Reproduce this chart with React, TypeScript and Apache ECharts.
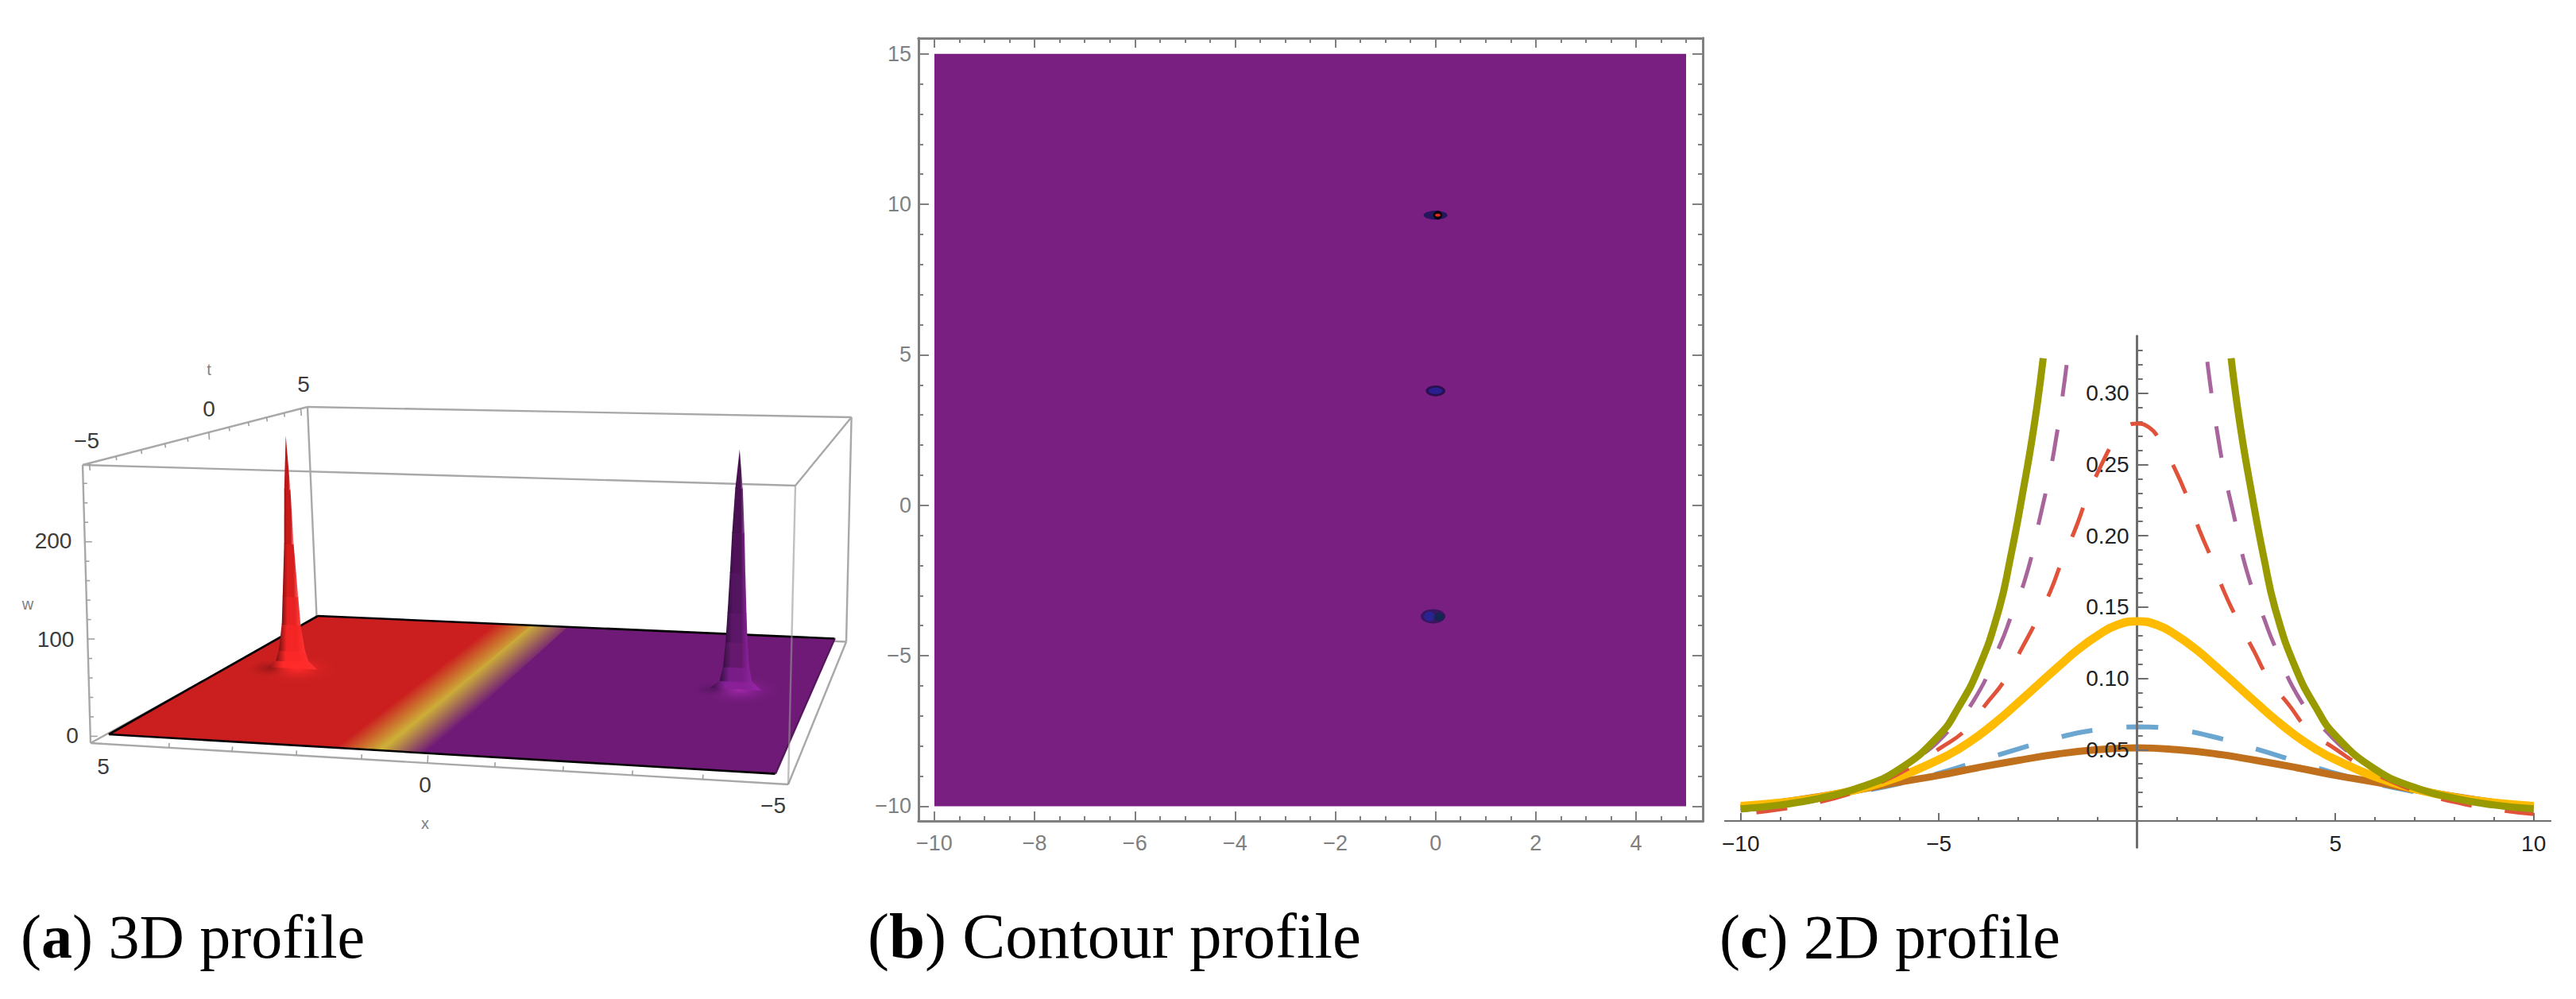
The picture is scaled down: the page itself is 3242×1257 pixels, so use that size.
import React, { useEffect, useRef } from "react";
import * as echarts from "echarts";

// ---------- Panel (a): 3D surface values ----------
const surfaceStripX = [[5, 1.4], [1.4, 0.7], [0.7, 0], [0, -5]];
const surfaceStripColors = [["#cb1f1f", "#cb1f1f"], ["#cb1f1f", "#cdae38"], ["#cdae38", "#701a78"], ["#701a78", "#701a78"]];
const redSpikeX = 3.87;
const redSpikeT = 0.19;
const redSpikeW = [0, 8, 20, 51, 84, 146, 210, 273];
const redSpikeR = [0.45, 0.3, 0.24, 0.17, 0.14, 0.085, 0.055, 0];
const redDark = ["#8a1414", "#801010", "#7a1010", "#7a1010", "#8a1010", "#991212", "#aa1515"];
const redMid = ["#ff2a2a", "#fb2828", "#f42525", "#e82222", "#d81d1d", "#c81a1a", "#c01818"];
const redBright = ["#ff3030", "#ff3030", "#ff3434", "#ff4040", "#ff6060", "#ff8888", "#ffaaaa"];
const purpleSpikeX = -3.775;
const purpleSpikeT = 0.3;
const purpleSpikeW = [0, 8, 24, 52, 85, 130, 175, 225, 268];
const purpleSpikeR = [0.42, 0.27, 0.215, 0.18, 0.155, 0.125, 0.1, 0.06, 0];
const purpleDark = ["#3a1048", "#32103f", "#32103f", "#32103f", "#361044", "#3a0f48", "#3a0f48", "#3a0f48"];
const purpleMid = ["#8a2098", "#7a1c88", "#66186f", "#5c1668", "#541560", "#4f1258", "#4a1152", "#4a1152"];
const purpleBright = ["#9a24a8", "#9022a0", "#8f22a0", "#8a2299", "#842694", "#7d2a8f", "#8a4a98", "#a07aa8"];
const glowX = [4.2, 3.78, -3.47, -3.84];
const glowT = [0.1, 0.15, 0.2, 0.25];
const glowRx = [34, 54, 34, 54];
const glowRy = [13, 19, 12, 19];
const glowCol = ["rgba(90,12,12,0.85)", "rgba(255,42,42,1)", "rgba(50,14,60,0.9)", "rgba(160,40,170,1)"];
const glowEnd = ["rgba(203,31,31,0)", "rgba(203,31,31,0)", "rgba(112,26,120,0)", "rgba(112,26,120,0)"];
const ticksX3d = [4, 3, 2, 1, 0, -1, -2, -3, -4];
const ticksT3d = [-5, -4, -3, -2, -1, 0, 1, 2, 3, 4, 5];
const ticksW3d = [0, 20, 40, 60, 80, 100, 120, 140, 160, 180, 200, 220, 240, 260];

// ---------- Panel (b): contour values ----------
const contourField = [[-10, -10, 5, 15]];
const spotX = [0, 0.045, 0.045, 0, 0, -0.05, -0.12, 0.07];
const spotY = [9.64, 9.64, 9.64, 3.8, 3.8, -3.69, -3.69, -3.71];
const spotRx = [0.238, 0.087, 0.055, 0.195, 0.14, 0.246, 0.11, 0.1];
const spotRy = [0.145, 0.145, 0.053, 0.18, 0.11, 0.235, 0.16, 0.13];
const spotFill = ["#25175e", "#06060f", "#e0281e", "#2b1050", "#2a1f90", "#3a1560", "#2a2490", "#16274f"];
const bTicksXMajor = [-10, -8, -6, -4, -2, 0, 2, 4];
const bTicksYMajor = [-10, -5, 0, 5, 10, 15];

// ---------- Panel (c): 2D profile values ----------
const goldX = [0, 0.5, 1, 1.5, 2, 2.5, 3, 3.5, 4, 4.5, 5, 6, 7, 8, 9, 10];
const goldY = [0.14, 0.1375, 0.13, 0.12, 0.108, 0.0955, 0.083, 0.0708, 0.0598, 0.0505, 0.043, 0.031, 0.0225, 0.0165, 0.0128, 0.0105];
const brownX = [0, 1, 2, 3, 4, 5, 6, 7, 8, 9, 10];
const brownY = [0.0513, 0.05, 0.047, 0.0425, 0.0375, 0.032, 0.0272, 0.022, 0.0172, 0.013, 0.0095];
const blueX = [0, 1, 2, 3, 4, 5, 6, 7, 8, 9, 10];
const blueY = [0.066, 0.064, 0.0585, 0.0505, 0.042, 0.0335, 0.0262, 0.0205, 0.0155, 0.0112, 0.0075];
const redX = [0, 0.3, 0.55, 0.95, 1.27, 1.57, 1.89, 2.19, 2.55, 2.93, 3.32, 3.84, 4.32, 5, 5.65, 6.5, 7.2, 8, 9, 10];
const redY = [0.2787, 0.276, 0.268, 0.247, 0.2265, 0.204, 0.183, 0.161, 0.14, 0.12, 0.0996, 0.081, 0.064, 0.0505, 0.0387, 0.0266, 0.0195, 0.0133, 0.0082, 0.0048];
const purpleX = [1.77, 2.1, 2.45, 2.8, 3.2, 3.45, 4.1, 4.8, 5.5, 6.5, 8, 10];
const purpleY = [0.322, 0.259, 0.213, 0.172, 0.142, 0.124, 0.0855, 0.062, 0.045, 0.0285, 0.015, 0.0075];
const oliveX = [2.37, 2.6, 2.9, 3.2, 3.5, 4, 4.5, 5, 6, 7, 8, 9, 10];
const oliveY = [0.3245, 0.277, 0.228, 0.184, 0.147, 0.107, 0.08, 0.06, 0.0363, 0.0235, 0.016, 0.0112, 0.0085];
const cTicksXMajor = [-10, -5, 5, 10];
const cTicksYMajor = [0.05, 0.1, 0.15, 0.2, 0.25, 0.3];

// ---------- Captions ----------
const captionTexts = ["({b|a}) 3D profile", "({b|b}) Contour profile", "({b|c}) 2D profile"];

// ---------- Camera of panel (a) ----------
const NL = [137, 924], NR = [975.5, 973.6], BR = [1050.5, 803.5], BL = [400, 775];
const TFL = [104, 585], TBL = [387, 512], TBR = [1071.6, 525], TFR = [1001, 611];
const BFL = [114, 935], BFR = [992, 987], BBR = [1065, 807.5], BBL = [398.6, 778];
const den0 = (NR[0] - BR[0]) * (BL[1] - BR[1]) - (BL[0] - BR[0]) * (NR[1] - BR[1]);
const sx = NL[0] - NR[0] + BR[0] - BL[0];
const sy = NL[1] - NR[1] + BR[1] - BL[1];
const hg = (sx * (BL[1] - BR[1]) - (BL[0] - BR[0]) * sy) / den0;
const hh = ((NR[0] - BR[0]) * sy - sx * (NR[1] - BR[1])) / den0;
const ha = NR[0] - NL[0] + hg * NR[0], hb = BL[0] - NL[0] + hh * BL[0];
const hd = NR[1] - NL[1] + hg * NR[1], he = BL[1] - NL[1] + hh * BL[1];
const wScale = 1.225;
function project(x: number, t: number, w: number): number[] {
  const u = (5 - x) / 10, v = (t + 5) / 10;
  const den = hg * u + hh * v + 1;
  const X = (ha * u + hb * v + NL[0]) / den;
  const Y = (hd * u + he * v + NL[1]) / den;
  const s = (wScale / den) * w;
  const tilt = (1 - v) * ((1 - u) * -0.0286 + u * 0.024) + v * ((1 - u) * -0.042 + u * 0.023);
  return [X + tilt * s, Y - s];
}
const lerp2 = (A: number[], B: number[], f: number) => [A[0] + (B[0] - A[0]) * f, A[1] + (B[1] - A[1]) * f];

function range(a: number, b: number, step: number) {
  const out: number[] = [];
  const n = Math.round((b - a) / step);
  for (let i = 0; i <= n; i++) out.push(+(a + i * step).toFixed(4));
  return out;
}
const fmtMinus = (s: string) => s.replace("-", "\u2212");

function segSeries(name: string, segs: number[][], color: string, width: number, z: number) {
  return {
    type: "custom", name, coordinateSystem: "none", silent: true, z, data: segs,
    renderItem: (_p: any, api: any) => ({
      type: "line",
      shape: { x1: api.value(0), y1: api.value(1), x2: api.value(2), y2: api.value(3) },
      style: { stroke: color, lineWidth: width, fill: "none" },
    }),
  };
}
const edge = (A: number[], B: number[]) => [A[0], A[1], B[0], B[1]];

function axisOf(gridIndex: number, position: string, min: number, max: number, ticks: number[], len: number, color: string, width: number, label?: any) {
  return {
    type: "value", gridIndex, position, min, max, z: 1,
    splitLine: { show: false },
    axisLine: { show: true, onZero: false, lineStyle: { color, width } },
    axisTick: { show: true, inside: true, length: len, customValues: ticks, lineStyle: { color, width: 2 } },
    axisLabel: label ? { show: true, ...label } : { show: false },
  };
}
const hiddenAxis = (gridIndex: number, min: number, max: number) => ({ type: "value", gridIndex, min, max, show: false });

function spikeSeries(name: string, x0: number, t0: number, W: number[], R: number[], dark: string[], mid: string[], bright: string[]) {
  const data = W.slice(0, -1).map((w, i) => [w, R[i], W[i + 1], R[i + 1], i]);
  return {
    type: "custom", name, coordinateSystem: "none", silent: true, z: 6, data,
    renderItem: (_p: any, api: any) => {
      const w0 = api.value(0), r0 = api.value(1), w1 = api.value(2), r1 = api.value(3), i = api.value(4);
      const a = project(x0 + r0, t0, w0), b = project(x0 - r0, t0, w0);
      const c = project(x0 - r1, t0, w1 + 1), d = project(x0 + r1, t0, w1 + 1);
      return {
        type: "polygon",
        shape: { points: [a, b, c, d] },
        style: {
          fill: new echarts.graphic.LinearGradient(0, 0, 1, 0, [
            { offset: 0, color: dark[i] },
            { offset: 0.3, color: mid[i] },
            { offset: 0.7, color: mid[i] },
            { offset: 1, color: bright[i] },
          ]),
        },
      };
    },
  };
}

function curve(name: string, xs: number[], ys: number[], color: string, width: number, z: number, dash?: number[], offset?: number) {
  const left = xs.map((x, i) => [-x, ys[i]]).reverse();
  const right = xs.map((x, i) => [x, ys[i]]);
  const data = xs[0] === 0 ? left.slice(0, -1).concat(right) : left.concat([["-", "-"] as any]).concat(right);
  return {
    type: "line", name, xAxisIndex: 8, yAxisIndex: 8, data, showSymbol: false, symbol: "none", smooth: 0.5,
    z, silent: true, connectNulls: false,
    lineStyle: { color, width, type: dash ?? "solid", dashOffset: offset ?? 0, cap: "butt" },
  };
}

function buildOption() {
  const labelB = { color: "#808080", fontFamily: "Liberation Sans", fontSize: 27 };
  const xMinorB = range(-10, 5, 0.5);
  const yMinorB = range(-10, 15, 1);
  const gb = { left: 1156, top: 48, width: 987, height: 985 };
  const gcX = { left: 2171, top: 423, width: 1039, height: 610 };
  const gcY = { left: 2689.7, top: 423, width: 520.3, height: 643 };
  const gcAll = { left: 2171, top: 423, width: 1039, height: 643 };
  const bx = [-10.317, 5.333], by = [-10.49, 15.52];
  const cx = [-10.395, 10.427], cy = [-0.0184, 0.34];
  const cGray = "#6e6e6e";
  const labelC = { color: "#222222", fontFamily: "Liberation Sans", fontSize: 28 };
  const minusFmt = (v: number) => fmtMinus(String(v));
  const grid = [gb, gb, gcX, gcX, gcY, gcY, gcAll].map((g) => ({ ...g, containLabel: false }));
  const xAxis: any[] = [
    axisOf(0, "bottom", bx[0], bx[1], bTicksXMajor, 12, "#808080", 3, { customValues: bTicksXMajor, margin: 14, formatter: minusFmt, ...labelB }),
    axisOf(0, "top", bx[0], bx[1], bTicksXMajor, 12, "#808080", 3),
    axisOf(1, "bottom", bx[0], bx[1], xMinorB, 6, "#808080", 3),
    axisOf(1, "top", bx[0], bx[1], xMinorB, 6, "#808080", 3),
    axisOf(2, "bottom", cx[0], cx[1], cTicksXMajor, 10, cGray, 2, { customValues: cTicksXMajor, margin: 14, formatter: minusFmt, ...labelC }),
    axisOf(3, "bottom", cx[0], cx[1], range(-10, 10, 1).filter((v) => v !== 0), 5, cGray, 2),
    hiddenAxis(4, 0, 10.427),
    hiddenAxis(5, 0, 10.427),
    hiddenAxis(6, cx[0], cx[1]),
  ];
  const yAxis: any[] = [
    axisOf(0, "left", by[0], by[1], bTicksYMajor, 13, "#808080", 3, { customValues: bTicksYMajor, margin: 9, formatter: minusFmt, ...labelB }),
    axisOf(0, "right", by[0], by[1], bTicksYMajor, 13, "#808080", 3),
    axisOf(1, "left", by[0], by[1], yMinorB, 6, "#808080", 3),
    axisOf(1, "right", by[0], by[1], yMinorB, 6, "#808080", 3),
    hiddenAxis(2, 0, 0.34),
    hiddenAxis(3, 0, 0.34),
    axisOf(4, "left", cy[0], cy[1], cTicksYMajor, 14, cGray, 3, { customValues: cTicksYMajor, margin: 10, formatter: (v: number) => v.toFixed(2), ...labelC }),
    axisOf(5, "left", cy[0], cy[1], range(0.01, 0.33, 0.01), 7, cGray, 3),
    hiddenAxis(6, cy[0], cy[1]),
  ];

  const backEdges = [edge(TBL, TBR), edge(TFL, TBL), edge(TBR, TFR), edge(TBL, BBL), edge(TBR, BBR), edge(BBL, BBR), edge(BFL, BBL)];
  const frontEdges = [edge(TFL, TFR), edge(TFL, BFL), edge(BFL, BFR), edge(BFR, BBR)];
  const xEdge = (x: number) => {
    const u = (5 - x) / 10; const s = 0.023 + 0.957 * (u * (1 + hg)) / (1 + hg * u);
    return lerp2(BFL, BFR, s);
  };
  const tEdge = (t: number) => {
    const v = (t + 5) / 10; const s = 0.03 + 0.94 * (v * (1 + hh)) / (1 + hh * v);
    return lerp2(TFL, TBL, s);
  };
  const wEdge = (w: number) => lerp2(BFL, TFL, (w + 7) / 286);
  const xTickSegs = ticksX3d.map((x) => { const p = xEdge(x); const l = x === 0 ? 10 : 6; return [p[0], p[1], p[0] + 0.5, p[1] - l]; });
  const tTickSegs = ticksT3d.map((t) => { const p = tEdge(t); const l = t % 5 === 0 ? 9 : 5; return [p[0], p[1], p[0] + 0.8, p[1] + l]; });
  const wTickSegs = ticksW3d.map((w) => { const p = wEdge(w); const l = w % 100 === 0 ? 9 : 5; return [p[0], p[1], p[0] + l, p[1]]; });

  const series: any[] = [
    segSeries("box-back", backEdges, "#a8a8a8", 2.4, 1),
    segSeries("box-front", frontEdges, "#a8a8a8", 2.4, 1),
    segSeries("x-ticks", xTickSegs, "#a0a0a0", 1.6, 1),
    segSeries("t-ticks", tTickSegs, "#a0a0a0", 1.6, 1),
    segSeries("w-ticks", wTickSegs, "#a0a0a0", 1.6, 1),
    {
      type: "custom", name: "surface", coordinateSystem: "none", silent: true, z: 3,
      data: surfaceStripX.map((s, i) => [s[0], s[1], i]),
      renderItem: (_p: any, api: any) => {
        const xa = api.value(0), xb = api.value(1), i = api.value(2);
        const a0 = project(xa + 0.02, -5, 0), a1 = project(xa + 0.02, 5, 0);
        const b1 = project(xb - 0.02, 5, 0), b0 = project(xb - 0.02, -5, 0);
        const mA = [(a0[0] + a1[0]) / 2, (a0[1] + a1[1]) / 2];
        const mB = [(b0[0] + b1[0]) / 2, (b0[1] + b1[1]) / 2];
        const d = [a1[0] - a0[0], a1[1] - a0[1]];
        const L = Math.hypot(d[0], d[1]);
        const n = [-d[1] / L, d[0] / L];
        const k = (mB[0] - mA[0]) * n[0] + (mB[1] - mA[1]) * n[1];
        const c = surfaceStripColors[i];
        return {
          type: "polygon",
          shape: { points: [a0, a1, b1, b0] },
          style: {
            fill: new echarts.graphic.LinearGradient(mA[0], mA[1], mA[0] + n[0] * k, mA[1] + n[1] * k, [
              { offset: 0, color: c[0] }, { offset: 1, color: c[1] },
            ], true),
          },
        };
      },
    },
    {
      type: "custom", name: "glow", coordinateSystem: "none", silent: true, z: 4,
      data: glowX.map((x, i) => [x, glowT[i], i]),
      renderItem: (_p: any, api: any) => {
        const i = api.value(2);
        const p = project(api.value(0), api.value(1), 0);
        return {
          type: "ellipse",
          shape: { cx: p[0], cy: p[1], rx: glowRx[i], ry: glowRy[i] },
          style: {
            fill: new echarts.graphic.RadialGradient(0.5, 0.5, 0.5, [
              { offset: 0, color: glowCol[i] }, { offset: 1, color: glowEnd[i] },
            ]),
          },
        };
      },
    },
    segSeries("surface-edge", [edge(NL, NR), edge(NL, BL), edge(BL, BR)], "#000000", 2.6, 4),
    segSeries("surface-edge-right", [edge(NR, BR)], "#4a1a50", 1.5, 4),
    segSeries("box-front-over", [edge(TFR, BFR)], "rgba(150,150,150,0.6)", 2.4, 5),
    spikeSeries("spike-red", redSpikeX, redSpikeT, redSpikeW, redSpikeR, redDark, redMid, redBright),
    spikeSeries("spike-purple", purpleSpikeX, purpleSpikeT, purpleSpikeW, purpleSpikeR, purpleDark, purpleMid, purpleBright),
    {
      type: "custom", name: "contour-field", xAxisIndex: 0, yAxisIndex: 0, coordinateSystem: "cartesian2d", silent: true, z: 2,
      data: contourField, clip: false,
      renderItem: (_p: any, api: any) => {
        const a = api.coord([api.value(0), api.value(3)]);
        const b = api.coord([api.value(2), api.value(1)]);
        return { type: "rect", shape: { x: a[0], y: a[1], width: b[0] - a[0], height: b[1] - a[1] }, style: { fill: "#7a1f82" } };
      },
    },
    {
      type: "custom", name: "contour-spots", xAxisIndex: 0, yAxisIndex: 0, coordinateSystem: "cartesian2d", silent: true, z: 3,
      data: spotX.map((x, i) => [x, spotY[i], spotRx[i], spotRy[i], i]),
      renderItem: (_p: any, api: any) => {
        const c = api.coord([api.value(0), api.value(1)]);
        const e = api.coord([api.value(0) + api.value(2), api.value(1) + api.value(3)]);
        return {
          type: "ellipse",
          shape: { cx: c[0], cy: c[1], rx: Math.abs(e[0] - c[0]), ry: Math.abs(e[1] - c[1]) },
          style: { fill: spotFill[api.value(4)] },
        };
      },
    },
    curve("blue", blueX, blueY, "#6aa6cf", 6, 0, [40, 43], 0),
    curve("brown", brownX, brownY, "#c0701c", 9, 0),
    curve("gold", goldX, goldY, "#ffbb00", 10.5, 3),
    curve("red", redX, redY, "#e0523a", 5, 4, [39, 42], 61),
    curve("purple", purpleX, purpleY, "#a8659c", 5, 4, [40, 42], 0),
    curve("olive", oliveX, oliveY, "#999900", 9, 5),
  ];

  const lab3d = (text: string, x: number, y: number, size: number, color: string) => ({
    type: "text", x, y, z: 10, silent: true,
    style: { text, fontFamily: "Liberation Sans", fontSize: size, fill: color, textAlign: "center", textVerticalAlign: "middle", verticalAlign: "middle" },
  });
  const capStyle = (text: string, size: number) => ({
    text, fontFamily: "Liberation Serif", fontSize: size, fill: "#000", textAlign: "left", textVerticalAlign: "middle", verticalAlign: "middle",
    rich: { b: { fontFamily: "Liberation Serif", fontSize: size, fontWeight: "bold", fill: "#000", color: "#000" } },
  });
  const graphic = [
    lab3d("\u22125", 109, 554, 28, "#3c3c3c"), lab3d("0", 263, 514, 28, "#3c3c3c"), lab3d("5", 382, 483, 28, "#3c3c3c"),
    lab3d("200", 67, 680, 28, "#3c3c3c"), lab3d("100", 70, 804, 28, "#3c3c3c"), lab3d("0", 91, 925, 28, "#3c3c3c"),
    lab3d("5", 130, 964, 28, "#3c3c3c"), lab3d("0", 535, 987, 28, "#3c3c3c"), lab3d("\u22125", 973, 1013, 28, "#3c3c3c"),
    lab3d("t", 263, 465, 20, "#808080"), lab3d("w", 35, 760, 20, "#808080"), lab3d("x", 535, 1036, 20, "#808080"),
    { type: "text", x: 26, y: 1178, z: 10, silent: true, style: capStyle(captionTexts[0], 78) },
    { type: "text", x: 1092, y: 1178, z: 10, silent: true, style: capStyle(captionTexts[1], 81) },
    { type: "text", x: 2164, y: 1178, z: 10, silent: true, style: capStyle(captionTexts[2], 78) },
  ];

  return { animation: false, backgroundColor: "#ffffff", grid, xAxis, yAxis, series, graphic };
}

export default function App() {
  const ref = useRef<HTMLDivElement>(null);
  useEffect(() => {
    const chart = echarts.init(ref.current!, null, { renderer: "svg" });
    chart.setOption(buildOption() as any);
    return () => chart.dispose();
  }, []);
  return <div ref={ref} style={{ position: "absolute", left: 0, top: 0, width: 3242, height: 1257 }} />;
}
